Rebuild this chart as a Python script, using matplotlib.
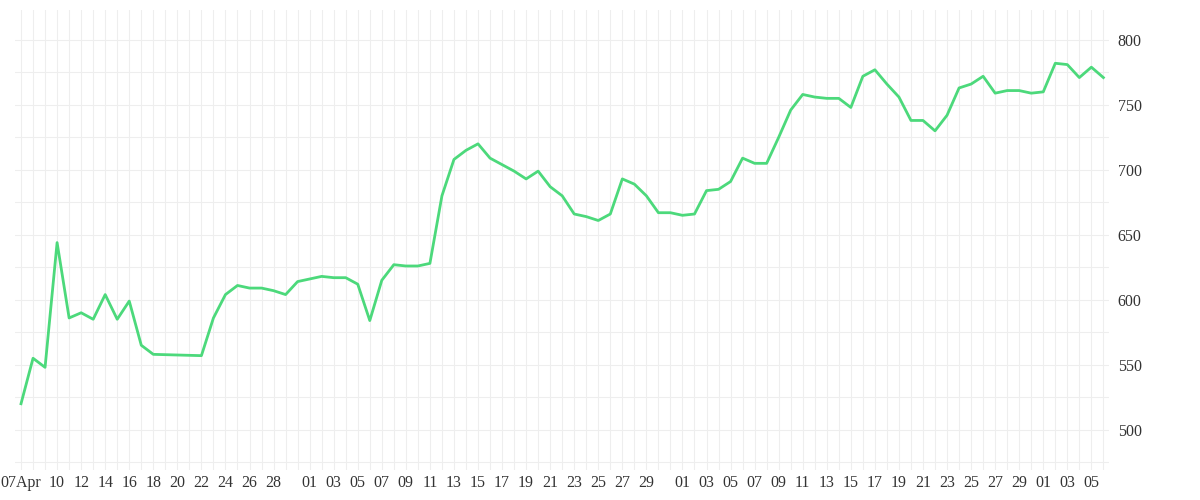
import matplotlib
matplotlib.use("Agg")
import matplotlib.pyplot as plt
import matplotlib.dates as mdates
import pandas as pd

# daily closes (Apr 19-21 missing in source)
dates = list(pd.date_range("2024-04-07", "2024-04-18")) + \
        list(pd.date_range("2024-04-22", "2024-07-06"))
values = [520, 555, 548, 644, 586, 590, 585, 604, 585, 599, 565, 558,
          557, 586, 604, 611, 609, 609, 607, 604, 614,
          616, 618, 617, 617, 612, 584, 615, 627, 626, 626, 628, 680, 708, 715,
          720, 709, 704, 699, 693, 699, 687, 680, 666, 664, 661, 666, 693, 689,
          680, 667, 667,
          665, 666, 684, 685, 691, 709, 705, 705, 725, 746, 758, 756, 755, 755,
          748, 772, 777, 766, 756, 738, 738, 730, 742, 763, 766, 772, 759, 761,
          761, 759,
          760, 782, 781, 771, 779, 771]

fig = plt.figure(figsize=(12, 5), dpi=100)
ax = fig.add_axes([0.0125, 0.06, 0.912, 0.92])
ax.plot(dates, values, color="#4cd97b", linewidth=2)

ax.set_ylim(469, 823)
ax.set_xlim(pd.Timestamp("2024-04-06 12:00"), pd.Timestamp("2024-07-06 12:00"))
ax.yaxis.tick_right()
ax.set_yticks([500, 550, 600, 650, 700, 750, 800])
ax.set_yticks(range(475, 825, 25), minor=True)

ticks = []
for d in pd.date_range("2024-04-07", "2024-07-06"):
    if d.month == 4 and (d.day == 7 or (10 <= d.day <= 28 and d.day % 2 == 0)):
        ticks.append(d)
    elif d.month > 4 and d.day % 2 == 1 and d.day <= 29:
        ticks.append(d)
labels = ["07Apr" if (t.month == 4 and t.day == 7) else t.strftime("%d") for t in ticks]
ax.set_xticks(ticks)
ax.set_xticklabels(labels)
ax.xaxis.set_minor_locator(mdates.DayLocator())

ax.grid(which="both", color="#eeeeee", linewidth=0.8)
ax.set_axisbelow(True)
for s in ax.spines.values():
    s.set_visible(False)
ax.tick_params(which="both", length=0, colors="#333333")
ax.tick_params(axis="y", pad=6)
for lab in ax.get_xticklabels() + ax.get_yticklabels():
    lab.set_fontfamily("Liberation Serif")
    lab.set_fontsize(11.5)

fig.savefig("out.png")
